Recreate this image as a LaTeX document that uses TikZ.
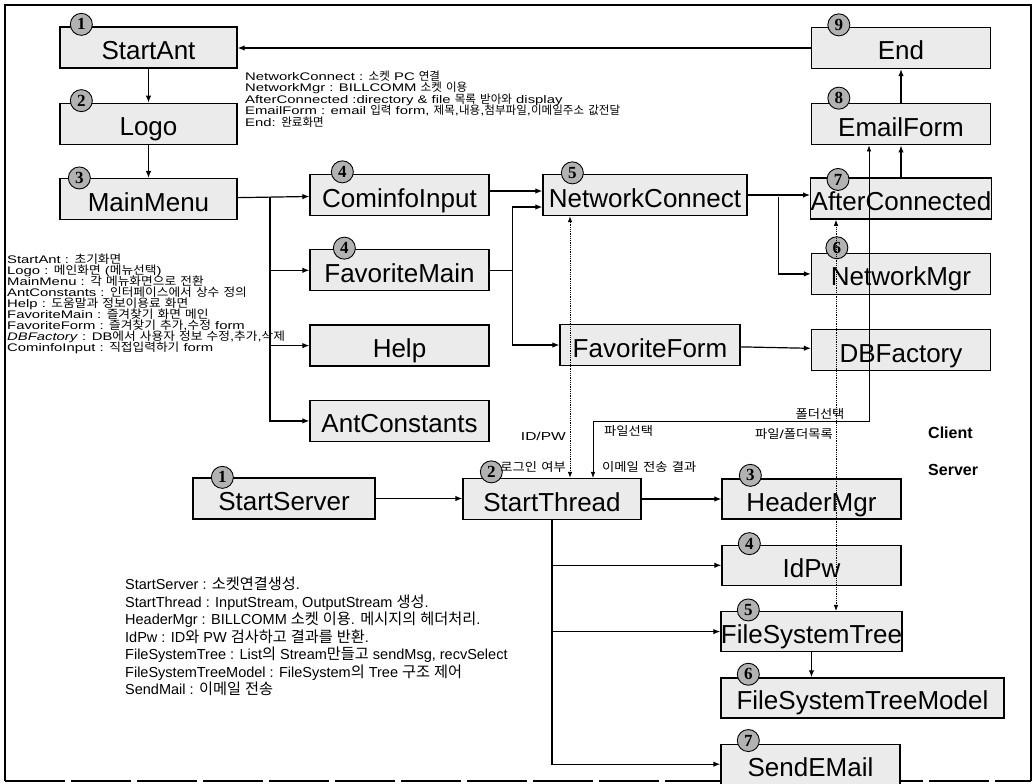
\documentclass[tikz,border=0pt]{standalone}
\usepackage{fontspec}
\usepackage{tikz}
\usetikzlibrary{arrows.meta,positioning,calc}
\setmainfont{Liberation Sans}
\newfontfamily\krfont[Scale=1.05]{Noto Sans CJK KR}
\newfontfamily\krwide[Scale=1.05,FakeStretch=1.1]{Noto Sans CJK KR}
\newfontfamily\notefont[FakeStretch=1.35]{Liberation Sans}
\newfontfamily\numfont{Liberation Serif}
% hangul syllables are set in the CJK font
\XeTeXinterchartokenstate=1
\newXeTeXintercharclass\hangulclass
\newcount\hcnt
\hcnt="AC00
\loop\ifnum\hcnt<"D7A4 \XeTeXcharclass\hcnt=\hangulclass \advance\hcnt by 1 \repeat
\def\latinsave{\relax}
\def\krsel{\krfont}
\XeTeXinterchartoks 0 \hangulclass={\edef\latinsave{\the\font}\krsel}
\XeTeXinterchartoks 4095 \hangulclass={\edef\latinsave{\the\font}\krsel}
\XeTeXinterchartoks \hangulclass 0={\latinsave}
\XeTeXinterchartoks \hangulclass 4095={\latinsave}
\def\tightlines{\lineskiplimit=-20pt\relax}
\def\widekr{\let\krsel\krwide}

\begin{document}
\begin{tikzpicture}[x=1pt,y=-1pt,font=\fontsize{26}{26}\selectfont]
\tikzset{box/.style={draw,line width=1.3pt,fill=black!8,minimum width=178pt,minimum height=41pt,inner sep=0pt,text height=24pt,text depth=0pt},
  num/.style={circle,draw,line width=0.9pt,fill=black!30,minimum size=22pt,inner sep=0pt,font=\numfont\bfseries\fontsize{17}{17}\selectfont},
  link/.style={-{Latex[length=7pt,width=5.5pt]},line width=1.2pt},
  dotlink/.style={{Latex[length=6pt,width=4.5pt]}-{Latex[length=6pt,width=4.5pt]},densely dotted,line width=0.8pt},
  thinlink/.style={{Latex[length=6pt,width=4.5pt]}-{Latex[length=6pt,width=4.5pt]},line width=0.6pt},
  note/.style={align=left,inner sep=0pt,anchor=west},
  tag/.style={inner sep=0pt,font=\notefont\fontsize{11.5}{11.5}\selectfont\widekr}}
\useasboundingbox (0,0) rectangle (1034,784);
\draw[line width=1.2pt] (5,781) -- (5,5) -- (1031,5) -- (1031,781);
\draw[line width=1.2pt,dash pattern=on 60pt off 6pt] (5,781) -- (1031,781);
% client
\node[box,minimum width=177pt] (startant) at (148.5,47.5) {StartAnt};
\node[box,minimum width=177pt,below=34pt of startant] (logo) {Logo};
\node[box,minimum width=177pt,below=33pt of logo] (mainmenu) {MainMenu};
\node[box,minimum width=179pt] (cominfo) at (399.5,195) {CominfoInput};
\node[box,minimum width=179pt,below=33pt of cominfo] (favmain) {FavoriteMain};
\node[box,minimum width=179pt,below=33pt of favmain] (help) {Help};
\node[box,minimum width=179pt,below=33pt of help] (antconst) {AntConstants};
\node[box,minimum width=204pt] (netconn) at (645,195) {NetworkConnect};
\node[box,minimum width=180pt] (favform) at (650,345) {FavoriteForm};
\node[box,minimum width=179pt] (endscr) at (901,48) {End};
\node[box,minimum width=179pt,below=34pt of endscr] (emailform) {EmailForm};
\node[box,minimum width=179pt,below=32pt of emailform] (afterconn) {AfterConnected};
\node[box,minimum width=179pt,below=33pt of afterconn] (netmgr) {NetworkMgr};
\node[box,minimum width=179pt,below=34pt of netmgr] (dbfactory) {DBFactory};
% server
\node[box,minimum width=182pt] (startserver) at (284,498.5) {StartServer};
\node[box] (startthread) at (552,499) {StartThread};
\node[box,minimum width=179pt,minimum height=40pt] (headermgr) at (811.5,499) {HeaderMgr};
\node[box,minimum width=179pt,minimum height=40pt,below=25pt of headermgr] (idpw) {IdPw};
\node[box,minimum width=179pt,minimum height=40pt,below=25pt of idpw] (fstree) {FileSystemTree};
\node[box,minimum width=283pt,minimum height=40pt,below=25pt of fstree.south west,anchor=north west] (fsmodel) {FileSystemTreeModel};
\node[box,minimum width=179pt,minimum height=40pt,below=25pt of fsmodel.south west,anchor=north west] (sendmail) {SendEMail};
\foreach \n/\d/\dx/\dy in {startant/1/22/-2,logo/2/22/-2,mainmenu/3/20/0,cominfo/4/33/-2,favmain/4/35/-1,netconn/5/30/-1,afterconn/7/28/2,netmgr/6/26/-5,endscr/9/28/-2,emailform/8/28/-5,startserver/1/30/0,startthread/2/29/-6,headermgr/3/29/-3,idpw/4/28/-1,fstree/5/28/-1,fsmodel/6/28/-3,sendmail/7/28/-3}
  \node[num] at ($(\n.north west)+(\dx,\dy)$) {\d};
% connectors
\draw[link] (startant) -- (logo);
\draw[link] (logo) -- (mainmenu);
\draw[link] (endscr.west) -- (endscr.west -| startant.east);
\draw[link] (emailform) -- (endscr);
\draw[link] (afterconn) -- (emailform);
\draw[link] (mainmenu) -- (cominfo);
\coordinate (menubus) at ($(mainmenu.east)!0.45!(cominfo.west)$);
\foreach \t in {favmain,help,antconst} \draw[link] (menubus) |- (\t.west);
\draw[link] ([yshift=4pt]cominfo.east) -- ([yshift=4pt]cominfo.east -| netconn.west);
\coordinate (favbus) at ($(favmain.east)+(23,0)$);
\draw[line width=1.2pt] (favmain.east) -- (favbus);
\draw[link] (favbus) |- ([yshift=-12pt]netconn.west);
\draw[link] (favbus) |- (favform.west);
\draw[link] (favform) -- (dbfactory);
\draw[link] (netconn.east) -- (netconn.east -| afterconn.west);
\coordinate (netbus) at ($(netconn.east)!0.5!(afterconn.west)$);
\draw[link] (netbus) |- (netmgr.west);
\draw[link] (startserver.east) -- (startserver.east -| startthread.west);
\draw[link] (startthread) -- (headermgr);
\foreach \t in {idpw,fstree,sendmail} \draw[link] (startthread.south) |- (\t.west);
\draw[link] (fstree) -- (fstree |- fsmodel.north);
% client <-> server
\draw[dotlink] ([xshift=-75pt]netconn.south) -- ([xshift=-75pt]netconn.south |- startthread.north);
\draw[dotlink] ([xshift=-65pt]afterconn.south) -- ([xshift=-65pt]afterconn.south |- fstree.north);
\coordinate (selrow) at (0,421);
\draw[thinlink] ([xshift=-32pt]emailform.south) -- ([xshift=-32pt]emailform.south |- selrow) -| ([xshift=41pt]startthread.north);
\node[tag,anchor=east] (lblid) at (566,436) {ID/PW};
\node[tag,anchor=east] (lbllogin) at (566,467) {로그인 여부};
\node[tag,anchor=west] (lblfile) at (604,431) {파일선택};
\node[tag,anchor=west] (lblresult) at (602,467) {이메일 전송 결과};
\node[tag] (lblfolder) at (820,414) {폴더선택};
\node[tag,anchor=east] (lbllist) at (833,434) {파일/폴더목록};
\node[anchor=west,inner sep=0pt,font=\bfseries\fontsize{16}{16}\selectfont] (client) at (928,433) {Client};
\node[anchor=west,inner sep=0pt,font=\bfseries\fontsize{16}{16}\selectfont] (server) at (928,470) {Server};
% notes
\node[note,font=\notefont\fontsize{11}{11.5}\selectfont\tightlines] (netnotes) at (245,99) {NetworkConnect : 소켓 PC 연결\\NetworkMgr : BILLCOMM 소켓 이용\\AfterConnected :directory \& file 목록 받아와 display\\EmailForm : email 입력 form, 제목,내용,첨부파일,이메일주소 값전달\\End: 완료화면};
\node[note,font=\notefont\fontsize{11}{11}\selectfont\tightlines\widekr] (menunotes) at (7,304) {StartAnt : 초기화면\\Logo : 메인화면 (메뉴선택)\\MainMenu : 각 메뉴화면으로 전환\\AntConstants : 인터페이스에서 상수 정의\\Help : 도움말과 정보이용료 화면\\FavoriteMain : 즐겨찾기 화면 메인\\FavoriteForm : 즐겨찾기 추가,수정 form\\\textit{DBFactory} : DB에서 사용자 정보 수정,추가,삭제\\CominfoInput : 직접입력하기 form};
\node[note,font=\fontsize{14.5}{17.5}\selectfont\tightlines] (servernotes) at (125,636.5) {StartServer : 소켓연결생성.\\StartThread : InputStream, OutputStream 생성.\\HeaderMgr : BILLCOMM 소켓 이용. 메시지의 헤더처리.\\IdPw : ID와 PW 검사하고 결과를 반환.\\FileSystemTree : List의 Stream만들고 sendMsg, recvSelect\\FileSystemTreeModel : FileSystem의 Tree 구조 제어\\SendMail : 이메일 전송};
\end{tikzpicture}
\end{document}
